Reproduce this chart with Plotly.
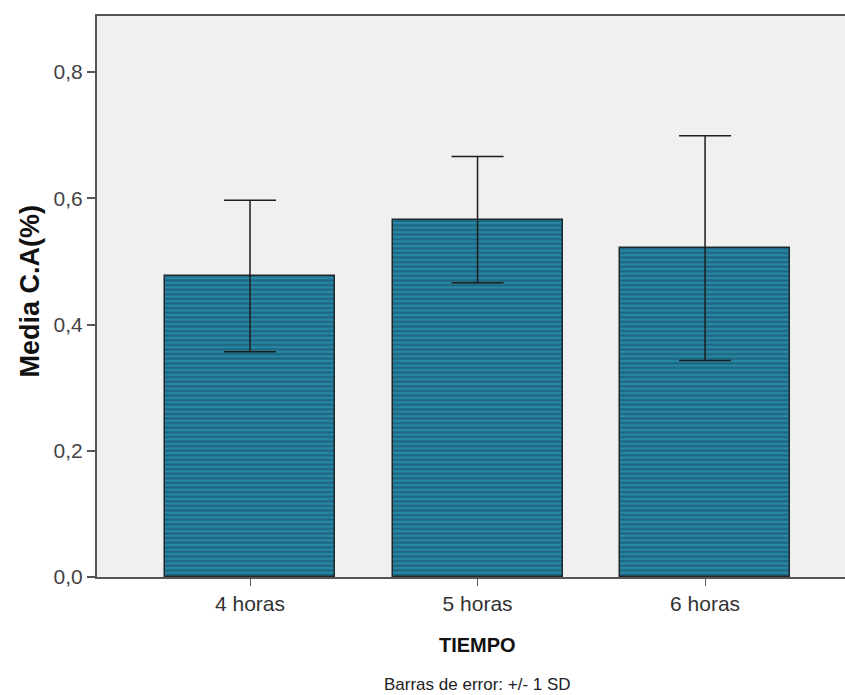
import plotly.graph_objects as go

categories = ["4 horas", "5 horas", "6 horas"]
means = [0.477, 0.566, 0.521]
sds = [0.120, 0.100, 0.178]
y_ticks = [0.0, 0.2, 0.4, 0.6, 0.8]

fig = go.Figure()
fig.add_trace(go.Bar(
    x=[0, 1, 2], y=means, width=0.747,
    marker=dict(
        color="#2787a6",
        pattern=dict(shape="-", fgcolor="#174656", bgcolor="#2787a6", size=4.6, solidity=0.5),
        line=dict(color="#1c2a30", width=1.5),
    ),
    error_y=dict(type="data", array=sds, visible=True, color="#1e1e1e", thickness=1.5, width=26),
    showlegend=False,
))

font_family = "Liberation Sans, Arial, sans-serif"
fig.update_layout(
    width=845, height=695,
    margin=dict(l=97, r=0, t=16, b=118),
    paper_bgcolor="white", plot_bgcolor="#f0f0f0",
    separators=",.",
    font=dict(family=font_family, color="#3a3a3a", size=16),
    xaxis=dict(
        range=[-0.6725, 2.615], tickvals=[0, 1, 2], ticktext=categories,
        showline=True, linecolor="#555555", linewidth=2, mirror=True,
        ticks="outside", ticklen=7, tickwidth=1, tickcolor="#555555",
        showgrid=False, zeroline=False,
        tickfont=dict(size=21, color="#333333"),
    ),
    yaxis=dict(
        range=[0, 0.8887], tickvals=y_ticks, tickformat=".1f",
        showline=True, linecolor="#555555", linewidth=2,
        ticks="outside", ticklen=8, tickwidth=2, tickcolor="#555555",
        showgrid=False, zeroline=False,
        tickfont=dict(size=21, color="#444444"),
    ),
    bargap=0,
)

fig.add_annotation(text="<b>Media C.A(%)</b>", xref="paper", yref="paper",
                   x=-0.09, y=0.51, xanchor="center", yanchor="middle", textangle=-90,
                   showarrow=False, font=dict(size=27, color="#111111", family=font_family))
fig.add_annotation(text="<b>TIEMPO</b>", xref="paper", yref="paper",
                   x=(477 - 97) / 748, y=-68 / 561, xanchor="center", yanchor="middle",
                   showarrow=False, font=dict(size=20, color="#111111", family=font_family))
fig.add_annotation(text="Barras de error: +/- 1 SD", xref="paper", yref="paper",
                   x=(477 - 97) / 748, y=-107 / 561, xanchor="center", yanchor="middle",
                   showarrow=False, font=dict(size=17, color="#222222", family=font_family))

fig.write_html("out.html")
